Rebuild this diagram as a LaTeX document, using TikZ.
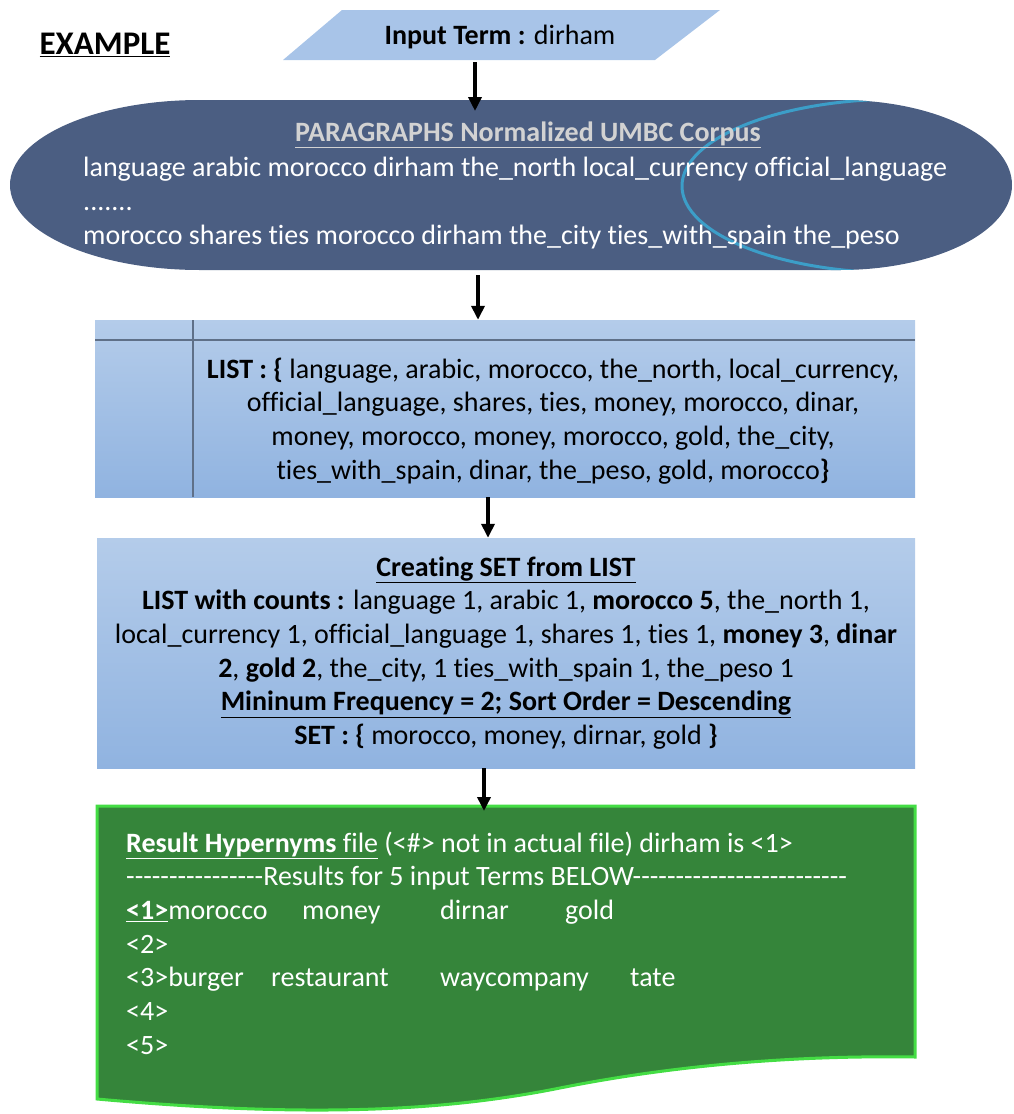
\documentclass[tikz,border=0pt]{standalone}
\usepackage{fontspec}
\setmainfont{Carlito}[Ligatures=NoCommon]
\usetikzlibrary{arrows.meta,calc}

\definecolor{paraBlue}{HTML}{A8C4E8}
\definecolor{corpusBlue}{HTML}{4B5E82}
\definecolor{ringCyan}{HTML}{3C9EC8}
\definecolor{boxTop}{HTML}{B4CCEA}
\definecolor{boxBot}{HTML}{90B3E0}
\definecolor{gridGray}{HTML}{5F7088}
\definecolor{docGreen}{HTML}{35853A}
\definecolor{docEdge}{HTML}{44DD44}
\definecolor{titleGray}{HTML}{D2D2D2}

% a single hyphen that never joins into an en or em dash
\newcommand\hy{-\kern0pt}
\newcommand\hyrun[1]{\count255=0 \loop\hy\advance\count255 by 1 \ifnum\count255<#1\repeat}

\tikzset{
  body/.style={font=\fontsize{28}{33.7}\selectfont, inner sep=0pt},
  arr/.style={line width=3.6pt, -{Triangle[length=14pt,width=13pt]}},
  flowbox/.style={draw=none, top color=boxTop, bottom color=boxBot,
    minimum width=820pt, inner sep=0pt},
}

\begin{document}
\begin{tikzpicture}[x=1pt,y=-1pt]
\useasboundingbox (0,0) rectangle (1013,1114);

% heading
\node[body, font=\fontsize{33}{38}\bfseries] (ex) at (105,45) {\underline{EXAMPLE}};

% input parallelogram
\fill[paraBlue] (342,10) -- (720,10) -- (655,60) -- (283,60) -- cycle;
\node[body] (in) at (500,37) {\textbf{Input Term :} dirham};

% corpus terminator shape with its inner ring
\path[save path=\corpuspath]
  (200,100) -- (840,100) arc[start angle=-90, end angle=90, x radius=172, y radius=85]
  -- (200,270) arc[start angle=90, end angle=270, x radius=190, y radius=85] -- cycle;
\fill[corpusBlue, use path=\corpuspath];
\begin{scope}
  \clip[use path=\corpuspath];
  \draw[ringCyan, line width=3pt] (900,186) ellipse[x radius=218, y radius=87];
\end{scope}
\node[body, text=titleGray, font=\fontsize{28}{33.7}\bfseries] (corpT) at (528,135)
  {\underline{PARAGRAPHS Normalized UMBC Corpus}};
\node[body, text=white, anchor=west, align=left] (corpL) at (83,203)
  {language arabic morocco dirham the\_north local\_currency official\_language\\
   .......\\
   morocco shares ties morocco dirham the\_city ties\_with\_spain the\_peso};

% list box
\node[flowbox, minimum height=177pt] (list) at (505,408.5) {};
\draw[gridGray, line width=1.1pt] (95,340) -- (915,340);
\draw[gridGray, line width=1.1pt] (193,320) -- (193,497);
\node[body, align=center] (listT) at (553,421)
  {\textbf{LIST : \{} language, arabic, morocco, the\_north, local\_currency,\\
   official\_language, shares, ties, money, morocco, dinar,\\
   money, morocco, money, morocco, gold, the\_city,\\
   ties\_with\_spain, dinar, the\_peso, gold, morocco\textbf{\}}};

% set box
\node[flowbox, minimum width=818pt, minimum height=230pt] (set) at (506,653) {};
\node[body, align=center] (setT) at (506,653)
  {\textbf{\underline{Creating SET from LIST}}\\
   \textbf{LIST with counts :} language 1, arabic 1, \textbf{morocco 5}, the\_north 1,\\
   local\_currency 1, official\_language 1, shares 1, ties 1, \textbf{money 3}, \textbf{dinar}\\
   \textbf{2}, \textbf{gold 2}, the\_city, 1 ties\_with\_spain 1, the\_peso 1\\
   \textbf{\underline{Mininum Frequency = 2; Sort Order = Descending}}\\
   \textbf{SET : \{} morocco, money, dirnar, gold \textbf{\}}};

% result document
\draw[docEdge, fill=docGreen, line width=3pt]
  (97,806) -- (915,806) -- (915,1057)
  .. controls (780,1055) and (660,1068) .. (560,1088)
  .. controls (460,1108) and (330,1120) .. (97,1099) -- cycle;
\node[body, text=white, anchor=west, align=left] (res) at (126,943)
  {\underline{\textbf{Result Hypernyms} file} (<\#> not in actual file) dirham is <1>\\
   \hyrun{16}Results for 5 input Terms BELOW\hyrun{25}\\
   \makebox[176pt][l]{\underline{\textbf{<1>}}morocco}\makebox[138pt][l]{money}\makebox[125pt][l]{dirnar}gold\\
   <2>\\
   \makebox[145pt][l]{<3>burger}\makebox[169pt][l]{restaurant}\makebox[190pt][l]{waycompany}tate\\
   <4>\\
   <5>};

% connector end points
\coordinate (a1s) at (475,62);   \coordinate (a1e) at (475,111);
\coordinate (a2s) at (478,275);  \coordinate (a2e) at (478,323);
\coordinate (a3s) at (488,500);  \coordinate (a3e) at (488,541);
\coordinate (a4s) at (484,766);  \coordinate (a4e) at (484,811);
\draw[arr] (a1s) -- (a1e);
\draw[arr] (a2s) -- (list.north -| a2e);
\draw[arr] (list.south -| a3s) -- (set.north -| a3e);
\draw[arr] (set.south -| a4s) -- (a4e);
\end{tikzpicture}
\end{document}
